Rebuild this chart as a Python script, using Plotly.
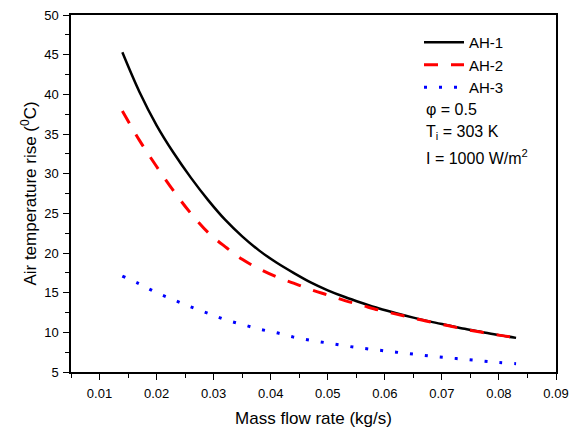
import plotly.graph_objects as go

mass_flow = [0.014, 0.017, 0.020, 0.023, 0.026, 0.029, 0.032, 0.035, 0.038, 0.041,
             0.044, 0.047, 0.050, 0.053, 0.056, 0.059, 0.062, 0.065, 0.068, 0.071,
             0.074, 0.077, 0.080, 0.083]
ah1 = [45.3, 40.3, 36.1, 32.6, 29.5, 26.7, 24.2, 22.1, 20.3, 18.8,
       17.5, 16.3, 15.3, 14.45, 13.7, 13.0, 12.4, 11.85, 11.35, 10.9,
       10.45, 10.05, 9.65, 9.3]
ah2 = [37.9, 34.2, 30.9, 27.8, 25.0, 22.6, 20.8, 19.2, 18.0, 17.0,
       16.2, 15.4, 14.7, 14.0, 13.4, 12.8, 12.3, 11.8, 11.3, 10.85,
       10.4, 10.0, 9.65, 9.35]
ah3 = [17.1, 16.1, 15.0, 14.1, 13.2, 12.4, 11.6, 11.0, 10.4, 9.95,
       9.4, 9.0, 8.65, 8.3, 8.0, 7.75, 7.5, 7.25, 7.0, 6.8,
       6.6, 6.4, 6.2, 6.05]
series_names = ["AH-1", "AH-2", "AH-3"]
x_ticks = [0.01, 0.02, 0.03, 0.04, 0.05, 0.06, 0.07, 0.08, 0.09]
y_ticks = [5, 10, 15, 20, 25, 30, 35, 40, 45, 50]
info_lines = ["φ = 0.5",
              "T<sub><span style='color:black'>i</span></sub> = 303 K",
              "I = 1000 W/m<sup>2</sup>"]

FONT = "Arial, Liberation Sans, sans-serif"

fig = go.Figure()
fig.add_trace(go.Scatter(x=mass_flow, y=ah1, mode="lines", name=series_names[0],
                         line=dict(color="black", width=2.5, shape="spline")))
fig.add_trace(go.Scatter(x=mass_flow, y=ah2, mode="lines", name=series_names[1],
                         line=dict(color="#ff0000", width=3, dash="14px,13px", shape="spline")))
fig.add_trace(go.Scatter(x=mass_flow, y=ah3, mode="lines", name=series_names[2],
                         line=dict(color="#0000ff", width=3, dash="3px,12px", shape="spline")))

info_y = [110, 132, 157]
for txt, py in zip(info_lines, info_y):
    fig.add_annotation(text=txt, xref="paper", yref="paper",
                       x=(424 - 71) / 485, y=1 - (py - 15) / 357,
                       xanchor="left", yanchor="middle", showarrow=False,
                       font=dict(family=FONT, size=16, color="black"))

axis_common = dict(showline=True, linecolor="black", linewidth=1.5, mirror=True,
                   ticks="outside", ticklen=6, tickwidth=1.3, tickcolor="black",
                   showgrid=False, zeroline=False,
                   tickfont=dict(family=FONT, size=13, color="black"))

fig.update_xaxes(range=[0.005, 0.09], tickvals=x_ticks,
                 ticktext=[f"{v:.2f}" for v in x_ticks], ticklabelstandoff=3,
                 minor=dict(ticks="outside", ticklen=4, tickwidth=1.2, tickcolor="black", dtick=0.005, tick0=0.005),
                 title=dict(text="Mass flow rate (kg/s)", font=dict(family=FONT, size=17, color="black"), standoff=12),
                 **axis_common)
fig.update_yaxes(range=[5, 50], tickvals=y_ticks, ticklabelstandoff=2,
                 minor=dict(ticks="outside", ticklen=4, tickwidth=1.2, tickcolor="black", dtick=2.5, tick0=5),
                 title=dict(text="Air temperature rise (<sup>0</sup>C)", font=dict(family=FONT, size=17, color="black"), standoff=3),
                 **axis_common)

fig.update_layout(
    width=575, height=432,
    margin=dict(l=71, r=19, t=15, b=60, autoexpand=False),
    paper_bgcolor="white", plot_bgcolor="white",
    font=dict(family=FONT, size=16, color="black"),
    legend=dict(x=(419 - 71) / 485, y=1 - (26 - 15) / 357, xanchor="left", yanchor="top",
                bgcolor="rgba(0,0,0,0)", font=dict(family=FONT, size=15, color="black"),
                tracegroupgap=0, itemwidth=40),
    showlegend=True,
)

fig.write_html("out.html", post_script="document.body.style.margin='0';",
               config={"displayModeBar": False})
